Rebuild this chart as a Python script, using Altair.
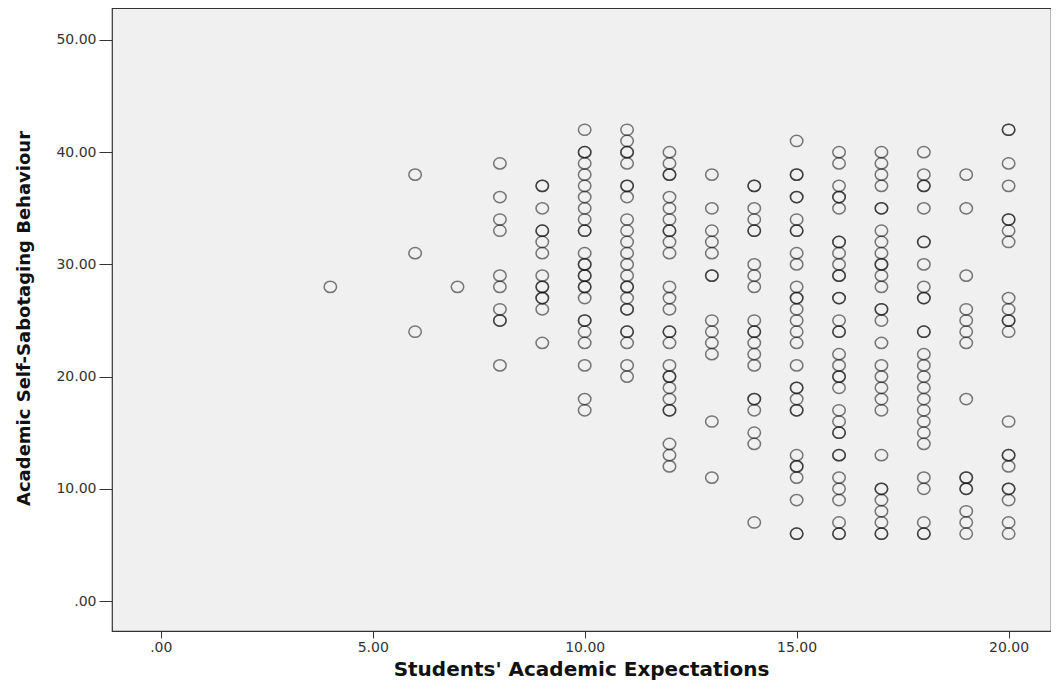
import altair as alt
import pandas as pd

# Students' Academic Expectations (x) -> Academic Self-Sabotaging Behaviour (y)
# repeated values mark overlapping cases (drawn darker)
x_values = [4, 6, 7, 8, 9, 10, 11, 12, 13, 14, 15, 16, 17, 18, 19, 20]

y_at_4 = [28]
y_at_6 = [38, 31, 24]
y_at_7 = [28]
y_at_8 = [39, 36, 34, 33, 29, 28, 26, 25, 25, 21]
y_at_9 = [37, 37, 35, 33, 33, 32, 31, 29, 28, 28, 27, 27, 26, 23]
y_at_10 = [42, 40, 40, 39, 38, 37, 36, 35, 34, 33, 33, 31, 30, 30, 29, 29, 28, 28,
           27, 25, 25, 24, 23, 21, 18, 17]
y_at_11 = [42, 41, 40, 40, 39, 37, 37, 36, 34, 33, 32, 31, 30, 29, 28, 28, 27, 26,
           26, 24, 24, 23, 21, 20]
y_at_12 = [40, 39, 38, 38, 36, 35, 34, 33, 33, 32, 31, 28, 27, 26, 24, 24, 23, 21,
           20, 20, 19, 18, 17, 17, 14, 13, 12]
y_at_13 = [38, 35, 33, 32, 31, 29, 29, 25, 24, 23, 22, 16, 11]
y_at_14 = [37, 37, 35, 34, 33, 33, 30, 29, 28, 25, 24, 24, 23, 22, 21, 18, 18, 17,
           15, 14, 7]
y_at_15 = [41, 38, 38, 36, 36, 34, 33, 33, 31, 30, 28, 27, 27, 26, 25, 24, 23, 21,
           19, 19, 18, 17, 17, 13, 12, 12, 11, 9, 6, 6]
y_at_16 = [40, 39, 37, 36, 36, 35, 32, 32, 31, 30, 29, 29, 27, 27, 25, 24, 24, 22,
           21, 20, 20, 19, 17, 16, 15, 15, 13, 13, 11, 10, 9, 7, 6, 6]
y_at_17 = [40, 39, 38, 37, 35, 35, 33, 32, 31, 30, 30, 29, 28, 26, 26, 25, 23, 21,
           20, 19, 18, 17, 13, 10, 10, 9, 8, 7, 6, 6]
y_at_18 = [40, 38, 37, 37, 35, 32, 32, 30, 28, 27, 27, 24, 24, 22, 21, 20, 19, 18,
           17, 16, 15, 14, 11, 10, 7, 6, 6]
y_at_19 = [38, 35, 29, 26, 25, 24, 23, 18, 11, 11, 10, 10, 8, 7, 6]
y_at_20 = [42, 42, 39, 37, 34, 34, 33, 32, 27, 26, 25, 25, 24, 16, 13, 13, 12, 10,
           10, 9, 7, 6]

x_ticks = [0, 5, 10, 15, 20]
y_ticks = [0, 10, 20, 30, 40, 50]

columns = [y_at_4, y_at_6, y_at_7, y_at_8, y_at_9, y_at_10, y_at_11, y_at_12,
           y_at_13, y_at_14, y_at_15, y_at_16, y_at_17, y_at_18, y_at_19, y_at_20]

rows = []
for xv, ys in zip(x_values, columns):
    for yv in ys:
        rows.append({"expect": xv, "sabot": yv})
df = pd.DataFrame(rows)

label_expr = "datum.value == 0 ? '.00' : format(datum.value, '.2f')"

ellipse = "M -1 0 A 1 0.9 0 1 0 1 0 A 1 0.9 0 1 0 -1 0 Z"

chart = alt.Chart(df).mark_point(
    shape=ellipse, filled=False, size=156, strokeWidth=1.5,
    stroke="#111111", strokeOpacity=0.78
).encode(
    x=alt.X("expect:Q",
            scale=alt.Scale(domain=[-1.15, 21.0], nice=False, zero=False),
            axis=alt.Axis(values=x_ticks, labelExpr=label_expr, grid=False, domain=False,
                          tickSize=7, tickColor="#333333", labelPadding=2,
                          labelFont="DejaVu Sans", labelFontSize=14, labelColor="#333333",
                          title="Students' Academic Expectations",
                          titleFont="DejaVu Sans", titleFontSize=20, titleFontWeight="bold",
                          titleColor="#111111", titleX=469, titleY=38,
                          titleBaseline="middle", titleAnchor="middle")),
    y=alt.Y("sabot:Q",
            scale=alt.Scale(domain=[-2.67, 52.85], nice=False, zero=False),
            axis=alt.Axis(values=y_ticks, labelExpr=label_expr, grid=False, domain=False,
                          tickSize=13, tickColor="#333333", labelPadding=3,
                          labelFont="DejaVu Sans", labelFontSize=14, labelColor="#333333",
                          title="Academic Self-Sabotaging Behaviour",
                          titleFont="DejaVu Sans", titleFontSize=18, titleFontWeight="bold",
                          titleColor="#111111", titleX=-88, titleY=310,
                          titleBaseline="middle", titleAnchor="middle", titleAngle=270)),
).properties(
    width=939, height=623,
    autosize=alt.AutoSizeParams(type="none"),
    padding={"left": 104, "top": 0, "right": 0, "bottom": 64},
    background="#ffffff",
).configure_view(
    fill="#f0f0f0", stroke="#333333", strokeWidth=1.2
)

chart.save("out.html", embed_options={"renderer": "svg", "actions": False})
